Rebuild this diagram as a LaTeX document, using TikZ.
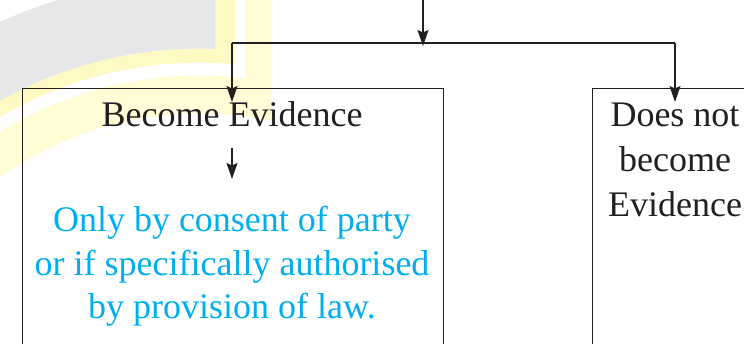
\documentclass[tikz,border=0pt]{standalone}
\usepackage{fontspec}
\setmainfont{Liberation Serif}
\usetikzlibrary{arrows.meta}
\definecolor{ink}{RGB}{35,31,32}
\definecolor{cyantext}{RGB}{0,174,239}
\definecolor{wmgrey}{RGB}{230,231,232}
\definecolor{wmyellow}{RGB}{255,249,196}
\definecolor{wmpale}{RGB}{255,252,214}
\begin{document}
\begin{tikzpicture}[x=1pt,y=-1pt,
  line/.style={draw=ink, line width=1.3pt},
  arr/.style={line, -{Stealth[length=16pt,width=11pt,inset=2.5pt]}},
  box/.style={draw=ink, line width=1.3pt, inner sep=0pt, anchor=north west},
  lbl/.style={font=\fontsize{36}{45}\selectfont, text=ink, align=center, inner sep=0pt, anchor=base},
  bluelbl/.style={font=\fontsize{36}{43.5}\selectfont, text=cyantext, align=center, inner sep=0pt, anchor=base}]
\useasboundingbox (0,0) rectangle (744,344);
\begin{scope}
\clip (0,0) rectangle (744,344);
% watermark
\coordinate (wc) at (200,458.6);
\begin{scope}
  \clip (0,0) rectangle (272,344);
  \fill[wmpale, even odd rule] (wc) circle[radius=410pt] (wc) circle[radius=345pt];
\end{scope}
\fill[wmpale] (215,0) rectangle (272,95);
\begin{scope}
  \clip (0,0) rectangle (245,344);
  \fill[white, even odd rule] (wc) circle[radius=396pt] (wc) circle[radius=383pt];
\end{scope}
\fill[white] (235,0) rectangle (245,72);
\begin{scope}
  \clip (0,0) rectangle (235,344);
  \fill[wmyellow, even odd rule] (wc) circle[radius=410pt] (wc) circle[radius=396pt];
\end{scope}
\fill[wmyellow] (215,0) rectangle (235,55);
\begin{scope}
  \clip (0,0) rectangle (215,344);
  \fill[wmgrey, even odd rule] (wc) circle[radius=480pt] (wc) circle[radius=410pt];
\end{scope}

% boxes
\node[box, minimum width=421pt, minimum height=300pt] (L) at (22,88) {};
\node[box, minimum width=166pt, minimum height=300pt] (R) at (592,88) {};

% coordinates for connectors
\coordinate (top) at (423,0);
\coordinate (jm) at (423,43);
\coordinate (jl) at (232,43);
\coordinate (jr) at (675,43);
\coordinate (lt) at (232,88);
\coordinate (rt) at (675,88);

\draw[arr] (top) -- ([yshift=-3pt]jm);
\draw[line] (jl) -- (jr);
\draw[arr] (jl) -- ([yshift=-14pt]lt);
\draw[arr] (jr) -- ([yshift=-14pt]rt);

% texts
\node[lbl] (be) at (232,127) {Become Evidence};
\node[bluelbl] (only) at (232,319) {Only by consent of party\\or if specifically authorised\\by provision of law.};
\coordinate (ia) at (232,148);
\coordinate (ib) at (232,179);
\draw[arr] (ia) -- (ib);
\node[lbl] (dn) at (675,217) {Does not\\become\\Evidence};
\end{scope}
\end{tikzpicture}
\end{document}
